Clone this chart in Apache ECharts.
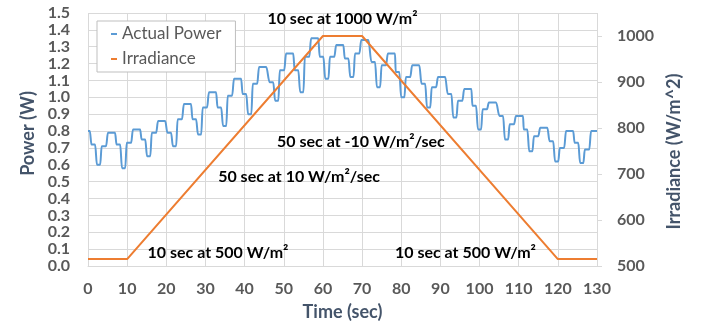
<!DOCTYPE html>
<html>
<head>
<meta charset="utf-8">
<script src="https://cdn.jsdelivr.net/npm/echarts@6/dist/echarts.min.js"></script>
<style>
  html, body { margin: 0; padding: 0; background: #fff; }
  #chart { width: 702px; height: 326px; }
</style>
</head>
<body>
<div id="chart"></div>
<script>
// irradiance profile (right axis)
const irrTime = [0, 10, 60, 70, 120, 130]
const irrValue = [515, 515, 1000, 1000, 515, 515]

// measured power, read cycle by cycle (one peak per cycle)
const startPower = 0.80
const peakTime = [6.1, 12.5, 18.9, 25.5, 31.9, 38.3, 44.7, 51.6, 58.0, 64.4, 70.8, 77.6, 83.8, 90.4, 97.1, 103.4, 110.3, 116.5, 123.1, 129.5]
const shoulderPower = [0.72, 0.72, 0.75, 0.79, 0.87, 0.94, 1.02, 1.09, 1.16, 1.24, 1.23, 1.21, 1.15, 1.08, 1.02, 0.95, 0.89, 0.81, 0.74, 0.73]
const dipPower = [0.60, 0.58, 0.65, 0.71, 0.78, 0.83, 0.90, 0.98, 1.03, 1.11, 1.12, 1.06, 1.00, 0.94, 0.88, 0.81, 0.75, 0.68, 0.62, 0.61]
const midPower = [0.71, 0.73, 0.79, 0.87, 0.94, 1.01, 1.08, 1.16, 1.24, 1.24, 1.26, 1.19, 1.12, 1.06, 0.98, 0.93, 0.84, 0.77, 0.70, 0.69]
const peakPower = [0.79, 0.81, 0.86, 0.96, 1.03, 1.11, 1.18, 1.26, 1.35, 1.31, 1.34, 1.26, 1.19, 1.12, 1.05, 0.97, 0.89, 0.82, 0.80, 0.80]

const timeMax = 130
const irrTicks = [500, 600, 700, 800, 900, 1000]

// annotations placed in (time, irradiance) units
const notes = [
  { text: '10 sec at 1000 W/m²', t: 65.0, irr: 1037 },
  { text: '50 sec at -10 W/m²/sec', t: 69.7, irr: 770 },
  { text: '50 sec at 10 W/m²/sec', t: 53.9, irr: 694 },
  { text: '10 sec at 500 W/m²', t: 33.2, irr: 528 },
  { text: '10 sec at 500 W/m²', t: 96.4, irr: 528 }
]

// each cycle: shoulder -> dip -> mid -> peak, timed against the peak
let powerData = [[0, startPower], [0.45, startPower]]
peakTime.forEach((c, i) => {
  powerData.push(
    [c - 5.2, shoulderPower[i]], [c - 4.3, shoulderPower[i]],
    [c - 3.8, dipPower[i]], [c - 3.0, dipPower[i]],
    [c - 2.6, midPower[i]], [c - 1.5, midPower[i]],
    [c - 1.0, peakPower[i]], [c + 0.8, peakPower[i]]
  )
})
powerData = powerData.filter(p => p[0] < timeMax)
powerData.push([timeMax, peakPower[peakPower.length - 1]])

const irrData = irrTime.map((t, i) => [t, irrValue[i]])

const font = 'Lato, "Noto Sans", sans-serif'
const labelStyle = { color: '#595959', fontWeight: 'bold', fontSize: 16, fontFamily: font }
const titleStyle = { color: '#44546A', fontWeight: 'bold', fontSize: 18, fontFamily: font }
const gridColor = '#d9d9d9'

const chart = echarts.init(document.getElementById('chart'))

chart.setOption({
  animation: false,
  grid: { left: 88, right: 105, top: 13, bottom: 58 },
  legend: {
    data: ['Actual Power', 'Irradiance'],
    orient: 'vertical',
    left: 97,
    top: 21,
    icon: 'rect',
    itemWidth: 6,
    itemHeight: 2,
    itemGap: 5,
    padding: [3, 14, 3, 14],
    borderColor: '#bfbfbf',
    borderWidth: 1,
    backgroundColor: '#fff',
    textStyle: { color: '#595959', fontSize: 17, fontFamily: font, lineHeight: 20 }
  },
  xAxis: {
    type: 'value',
    min: 0,
    max: timeMax,
    interval: 10,
    name: 'Time (sec)',
    nameLocation: 'middle',
    nameGap: 37,
    nameTextStyle: titleStyle,
    axisLine: { lineStyle: { color: gridColor } },
    axisTick: { show: false },
    axisLabel: Object.assign({ margin: 15 }, labelStyle),
    splitLine: { lineStyle: { color: gridColor } }
  },
  yAxis: [
    {
      type: 'value',
      min: 0,
      max: 1.5,
      interval: 0.1,
      name: 'Power (W)',
      nameLocation: 'middle',
      nameRotate: 90,
      nameGap: 51,
      nameTextStyle: Object.assign({ padding: [0, 0, 0, 12] }, titleStyle),
      axisLine: { show: false },
      axisTick: { show: false },
      axisLabel: Object.assign({ margin: 18, formatter: v => v.toFixed(1) }, labelStyle),
      splitLine: { lineStyle: { color: gridColor } }
    },
    {
      type: 'value',
      position: 'right',
      min: 500,
      max: 1050,
      interval: 100,
      name: 'Irradiance (W/m^2)',
      nameLocation: 'middle',
      nameRotate: 90,
      nameGap: 59,
      nameTextStyle: Object.assign({ padding: [0, 24, 0, 0] }, titleStyle),
      axisLine: { show: false },
      axisTick: {
        show: true,
        length: 5,
        lineStyle: { color: gridColor },
        customValues: irrTicks
      },
      axisLabel: Object.assign({ margin: 20, customValues: irrTicks, formatter: v => String(v) }, labelStyle),
      splitLine: { show: false }
    }
  ],
  series: [
    {
      name: 'Actual Power',
      type: 'line',
      yAxisIndex: 0,
      data: powerData,
      showSymbol: false,
      smooth: 0.4,
      smoothMonotone: 'x',
      lineStyle: { color: '#5B9BD5', width: 2 },
      itemStyle: { color: '#5B9BD5' }
    },
    {
      name: 'Irradiance',
      type: 'line',
      yAxisIndex: 1,
      data: irrData,
      showSymbol: false,
      lineStyle: { color: '#ED7D31', width: 2 },
      itemStyle: { color: '#ED7D31' },
      markPoint: {
        symbol: 'circle',
        symbolSize: 0,
        silent: true,
        label: {
          show: true,
          position: 'inside',
          formatter: '{b}',
          color: '#000',
          fontWeight: 'bold',
          fontSize: 16,
          fontFamily: font
        },
        data: notes.map(n => ({ name: n.text, coord: [n.t, n.irr] }))
      }
    }
  ]
})
</script>
</body>
</html>
